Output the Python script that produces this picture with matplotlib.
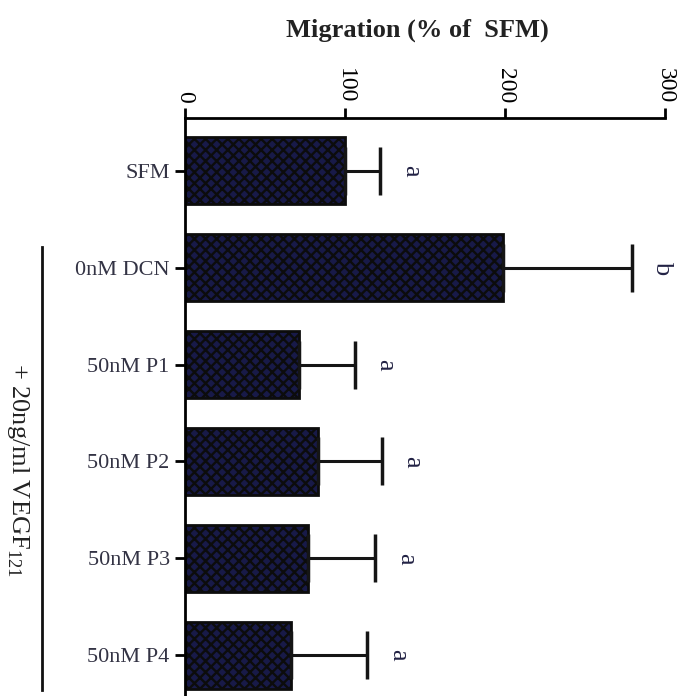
import matplotlib
matplotlib.use("Agg")
import matplotlib.pyplot as plt

groups = ["SFM", "0nM DCN", "50nM P1", "50nM P2", "50nM P3", "50nM P4"]
migration = [100, 199, 71, 83, 77, 66]
sem = [22, 80, 35, 40, 42, 48]
letters = ["a", "b", "a", "a", "a", "a"]
ticks = [0, 100, 200, 300]

plt.rcParams['font.family'] = ['Liberation Serif', 'DejaVu Serif']
plt.rcParams['mathtext.fontset'] = 'custom'
plt.rcParams['mathtext.rm'] = 'Liberation Serif'
plt.rcParams['hatch.color'] = '#050508'
plt.rcParams['hatch.linewidth'] = 1.7

fig = plt.figure(figsize=(6.9, 6.96), dpi=100)
ax = fig.add_axes([0.268, 0.0, 0.696, 0.830])

pos = list(range(len(groups)))
ax.barh(pos, migration, height=0.69, color='#181a48', edgecolor='#0c0c0c',
        linewidth=2, hatch='xxx')
ax.errorbar(migration, pos, xerr=[[0] * len(sem), sem], fmt='none',
            ecolor='#151515', elinewidth=2.2, capsize=17, capthick=2.5)

# significance letters
for p, m, s, l in zip(pos, migration, sem, letters):
    ax.text(m + s + 19, p, l, rotation=-90, ha='center', va='center',
            fontsize=19, color='#222244')

ax.set_xlim(0, 300)
ax.set_ylim(5.42, -0.54)
ax.xaxis.tick_top()
ax.set_xticks(ticks)
ax.set_xticklabels([str(t) for t in ticks], rotation=-90, fontsize=17)
ax.set_yticks(pos)
ax.set_yticklabels(groups, fontsize=16, color='#333344')
ax.tick_params(axis='both', width=2, length=7, pad=4)
ax.spines['right'].set_visible(False)
ax.spines['bottom'].set_visible(False)
ax.spines['top'].set_linewidth(2)
ax.spines['left'].set_linewidth(2)

fig.text(0.605, 0.957, "Migration (% of  SFM)", ha='center', va='center',
         fontsize=19, fontweight='bold', color='#222222')

# group bracket for VEGF-treated samples
fig.add_artist(plt.Line2D([0.061, 0.061], [0.008, 0.645], color='#111111', lw=2))
fig.text(0.026, 0.325, "+ 20ng/ml VEGF$_{121}$", rotation=-90, ha='center',
         va='center', fontsize=19, color='#222222')

fig.savefig("out.png", dpi=100)
